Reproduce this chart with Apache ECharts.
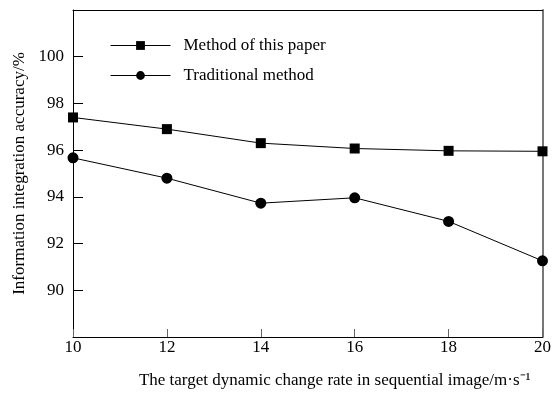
<!DOCTYPE html>
<html><head><meta charset="utf-8">
<script src="https://cdn.jsdelivr.net/npm/echarts@6/dist/echarts.min.js"></script>
<style>html,body{margin:0;padding:0;background:#fff}#c{width:554px;height:394px}</style>
</head><body><div id="c"></div>
<script>
const categories = [10, 12, 14, 16, 18, 20];
const methodThisPaper = [97.4, 96.9, 96.3, 96.07, 95.97, 95.95];
const traditionalMethod = [95.67, 94.8, 93.73, 93.96, 92.95, 91.26];
const yTicks = [90, 92, 94, 96, 98, 100];
const F = 'Liberation Serif';
const chart = echarts.init(document.getElementById('c'));
chart.setOption({
  animation: false,
  backgroundColor: '#fff',
  textStyle: {fontFamily: F},
  grid: {left: 73, right: 8, top: 10, bottom: 53},
  legend: {
    orient: 'vertical', left: 110, top: 37, padding: 0,
    itemWidth: 60, itemHeight: 11, itemGap: 13,
    lineStyle: {width: 1},
    textStyle: {fontFamily: F, fontSize: 17, color: '#000', padding: [0, 0, 0, 8]},
    data: ['Method of this paper', 'Traditional method']
  },
  xAxis: [{
    type: 'value', min: 10, max: 20, interval: 2,
    name: 'The target dynamic change rate in sequential image/m·s⁻¹',
    nameLocation: 'middle', nameGap: 35,
    nameTextStyle: {fontFamily: F, fontSize: 17, color: '#000', padding: [0, 0, 0, 54]},
    axisLine: {lineStyle: {color: '#000', width: 1}},
    axisTick: {inside: true, length: 8, lineStyle: {color: '#666'}},
    axisLabel: {fontFamily: F, fontSize: 17, color: '#000', margin: 2},
    splitLine: {show: false}
  }, {
    type: 'value', min: 10, max: 20, position: 'top',
    axisLine: {show: true, lineStyle: {color: '#000', width: 1}},
    axisTick: {show: false}, axisLabel: {show: false}, splitLine: {show: false}
  }],
  yAxis: [{
    type: 'value', min: 88, max: 102, interval: 2,
    name: 'Information integration accuracy/%',
    nameLocation: 'middle', nameGap: 34,
    nameTextStyle: {fontFamily: F, fontSize: 17, color: '#000'},
    axisLine: {show: true, lineStyle: {color: '#000', width: 1}},
    axisTick: {inside: true, length: 10, lineStyle: {color: '#000'}},
    axisLabel: {fontFamily: F, fontSize: 17, color: '#000', margin: 9,
      formatter: v => yTicks.indexOf(v) >= 0 ? String(v) : ''},
    splitLine: {show: false}
  }, {
    type: 'value', min: 88, max: 102, position: 'right',
    axisLine: {show: true, lineStyle: {color: '#777', width: 2}},
    axisTick: {show: false}, axisLabel: {show: false}, splitLine: {show: false}
  }],
  series: [{
    name: 'Method of this paper', type: 'line',
    data: categories.map((x, i) => [x, methodThisPaper[i]]),
    symbol: 'rect', symbolSize: 10, z: 3,
    lineStyle: {color: '#000', width: 1}, itemStyle: {color: '#000'}
  }, {
    name: 'Traditional method', type: 'line',
    data: categories.map((x, i) => [x, traditionalMethod[i]]),
    symbol: 'circle', symbolSize: 11, z: 3,
    lineStyle: {color: '#000', width: 1}, itemStyle: {color: '#000'}
  }]
});
</script></body></html>
